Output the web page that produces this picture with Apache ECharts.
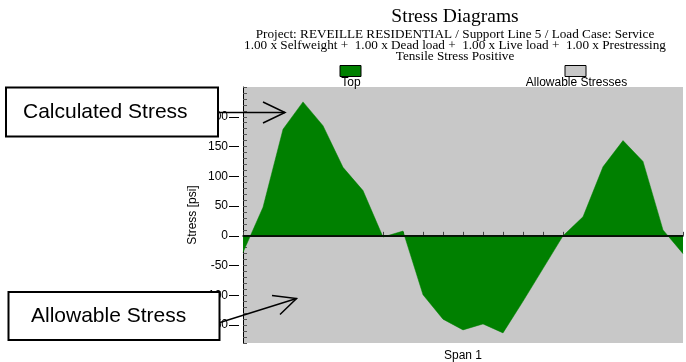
<!DOCTYPE html>
<html>
<head>
<meta charset="utf-8">
<title>Stress Diagrams</title>
<script src="https://cdn.jsdelivr.net/npm/echarts@6/dist/echarts.min.js"></script>
<style>
  html, body { margin: 0; padding: 0; background: #fff; }
  #chart { width: 686px; height: 362px; }
</style>
</head>
<body>
<div id="chart"></div>
<script>
// Stations along the span (tick positions) and top-fibre stress at each [psi]
const stations = [0, 1, 2, 3, 4, 5, 6, 7, 8, 9, 10, 11, 12, 13, 14, 15, 16, 17, 18, 19, 20, 21, 22];
const topStress = [-28, 48, 179, 225, 185, 115, 76, -2, 8, -99, -140, -158, -148, -163, -110, -55, 0, 32, 116, 160, 125, 10, -30];

// Stress axis tick labels (major ticks)
const stressLabels = [-150, -100, -50, 0, 50, 100, 150, 200];

const titleText = 'Stress Diagrams';
const subtitleLines = [
  'Project: REVEILLE RESIDENTIAL / Support Line 5 / Load Case: Service',
  '1.00 x Selfweight +  1.00 x Dead load +  1.00 x Live load +  1.00 x Prestressing',
  'Tensile Stress Positive'
];
const legendNames = ['Top', 'Allowable Stresses'];
const spanName = 'Span 1';

const chart = echarts.init(document.getElementById('chart'), null, { renderer: 'canvas' });

const sans = 'Liberation Sans, Arial, sans-serif';
const serif = 'Liberation Serif, Times New Roman, serif';

const option = {
  animation: false,
  backgroundColor: '#ffffff',
  title: {
    text: titleText,
    subtext: subtitleLines.join('\n'),
    left: 450,
    top: 2,
    textAlign: 'center',
    itemGap: 2,
    textStyle: { fontFamily: serif, fontSize: 19.5, fontWeight: 'normal', color: '#000' },
    subtextStyle: { fontFamily: serif, fontSize: 13.2, color: '#000', lineHeight: 11 }
  },
  grid: {
    left: 243, top: 87, width: 440, height: 256,
    outerBoundsMode: 'none',
    containLabel: false,
    show: true, backgroundColor: '#c8c8c8', borderWidth: 0
  },
  xAxis: {
    type: 'value',
    min: 0, max: 22, interval: 1,
    name: spanName,
    nameLocation: 'middle',
    nameGap: 7,
    nameTextStyle: { fontFamily: sans, fontSize: 12, color: '#000', verticalAlign: 'top' },
    axisLine: { show: true, lineStyle: { color: '#000', width: 1.5 } },
    axisTick: { show: true, inside: true, length: 4, lineStyle: { color: '#444' } },
    axisLabel: { show: false },
    splitLine: { show: false }
  },
  yAxis: [
    {
      // labelled axis: ruler ticks every 10 psi drawn inward, labels every 50 psi
      type: 'value',
      min: -180, max: 250, interval: 10,
      offset: 4,
      name: 'Stress [psi]',
      nameLocation: 'middle',
      nameGap: 40,
      nameMoveOverlap: false,
      nameTextStyle: { fontFamily: sans, fontSize: 12, color: '#000' },
      axisLine: { show: true, lineStyle: { color: '#000', width: 1 } },
      axisTick: { show: true, inside: true, length: 4, lineStyle: { color: '#555' } },
      axisLabel: {
        show: true, margin: 11, fontFamily: sans, fontSize: 12, color: '#000',
        formatter: v => (stressLabels.indexOf(v) >= 0 ? String(v) : '')
      },
      splitLine: { show: false }
    },
    {
      // outward major ticks at the labelled values
      type: 'value',
      min: -180, max: 250,
      position: 'left',
      offset: 4,
      axisLine: { show: false },
      axisTick: { show: true, inside: false, length: 10, customValues: stressLabels, lineStyle: { color: '#000' } },
      axisLabel: { show: false, customValues: stressLabels },
      splitLine: { show: false }
    }
  ],
  series: [
    {
      name: legendNames[0],
      type: 'line',
      data: stations.map((s, i) => [s, topStress[i]]),
      showSymbol: false,
      lineStyle: { width: 0.5, color: '#008000' },
      areaStyle: { color: '#008000', opacity: 1 },
      z: 3,
      markLine: {
        silent: true,
        symbol: 'none',
        label: { show: false },
        lineStyle: { color: '#000', width: 1.5, type: 'solid' },
        data: [{ yAxis: 0 }]
      }
    }
  ],
  graphic: [
    // legend
    { type: 'rect', shape: { x: 340, y: 65.5, width: 21, height: 11 }, style: { fill: '#008000', stroke: '#000', lineWidth: 1 } },
    { type: 'text', x: 351, y: 83, style: { text: legendNames[0], font: '12px ' + sans, fill: '#000', align: 'center', verticalAlign: 'middle' } },
    { type: 'rect', shape: { x: 565, y: 65.5, width: 21, height: 11 }, style: { fill: '#c8c8c8', stroke: '#000', lineWidth: 1 } },
    { type: 'text', x: 576.5, y: 83, style: { text: legendNames[1], font: '12px ' + sans, fill: '#000', align: 'center', verticalAlign: 'middle' } },

    // callout: calculated stress
    { type: 'rect', z: 100, shape: { x: 6, y: 87.5, width: 212, height: 49 }, style: { fill: '#fff', stroke: '#000', lineWidth: 2 } },
    { type: 'text', z: 101, x: 23, y: 112, style: { text: 'Calculated Stress', font: '21px ' + sans, fill: '#000', verticalAlign: 'middle' } },
    { type: 'polyline', z: 101, shape: { points: [[218, 112.5], [285, 112.5]] }, style: { stroke: '#000', lineWidth: 1.5, fill: null } },
    { type: 'polyline', z: 101, shape: { points: [[263, 102], [285, 112.5], [263, 123]] }, style: { stroke: '#000', lineWidth: 1.5, fill: null } },

    // callout: allowable stress
    { type: 'rect', z: 100, shape: { x: 8.5, y: 292, width: 211, height: 48 }, style: { fill: '#fff', stroke: '#000', lineWidth: 2 } },
    { type: 'text', z: 101, x: 31, y: 316.5, style: { text: 'Allowable Stress', font: '21px ' + sans, fill: '#000', verticalAlign: 'middle' } },
    { type: 'polyline', z: 101, shape: { points: [[220, 322.5], [296.5, 298.5]] }, style: { stroke: '#000', lineWidth: 1.5, fill: null } },
    { type: 'polyline', z: 101, shape: { points: [[272, 295.5], [296.5, 298.5], [280, 314.5]] }, style: { stroke: '#000', lineWidth: 1.5, fill: null } }
  ]
};

chart.setOption(option);
</script>
</body>
</html>
